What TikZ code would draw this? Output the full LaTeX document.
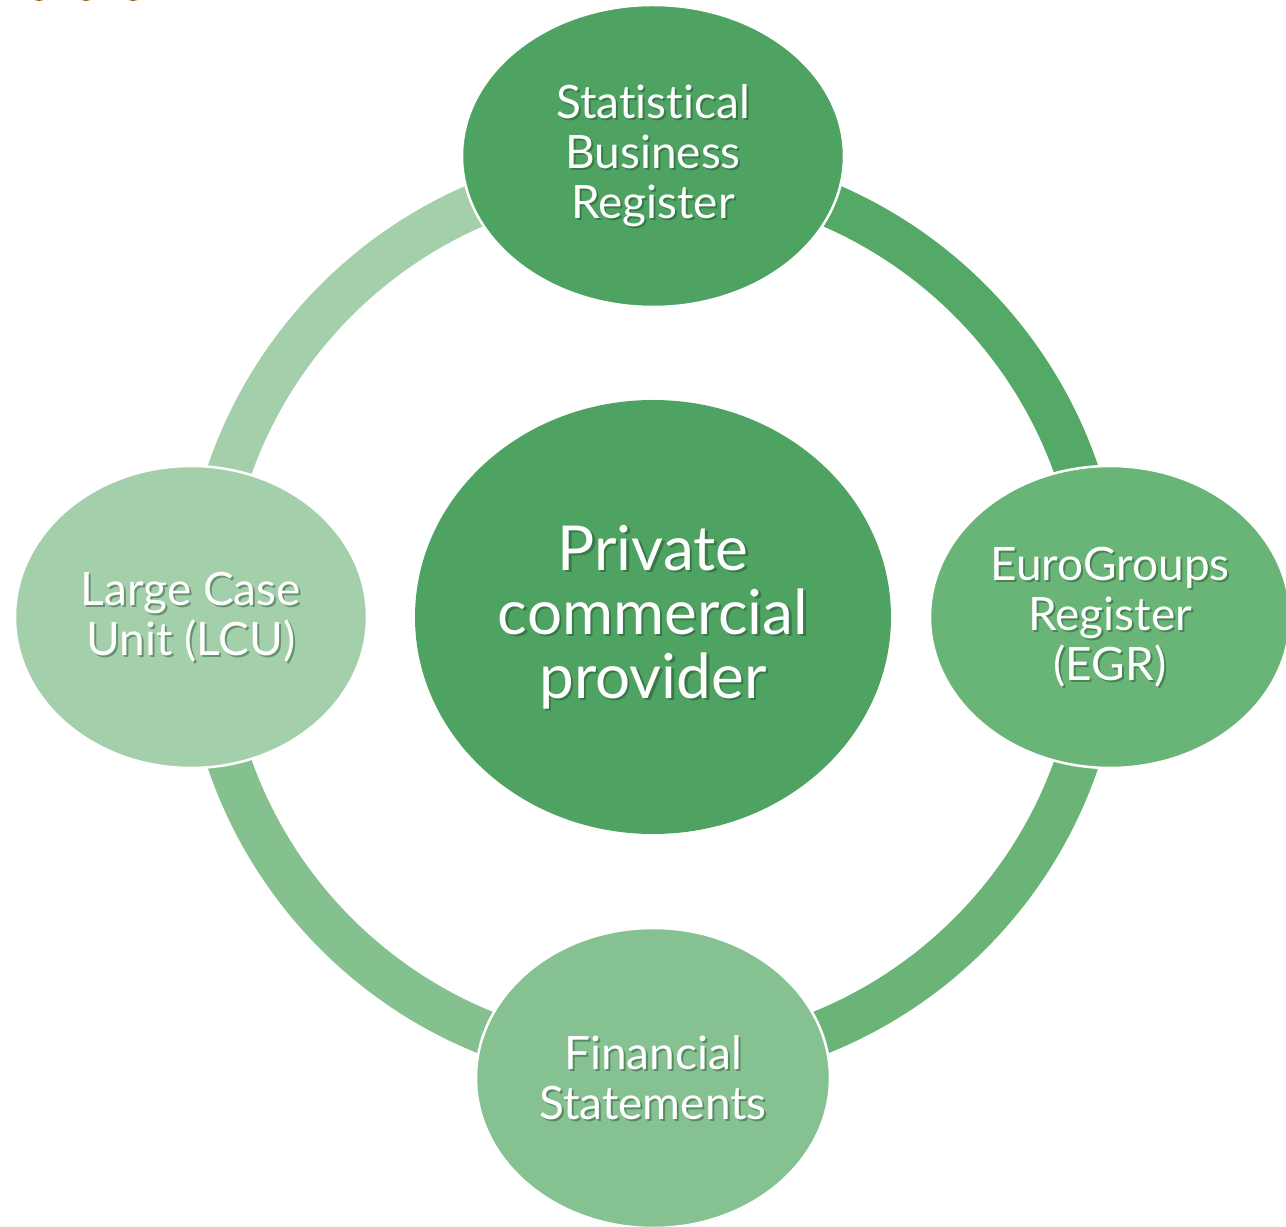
\documentclass[tikz,border=0pt]{standalone}
\usepackage{fontspec}
\setmainfont{Lato}[Ligatures=NoCommon]
\usetikzlibrary{shapes.geometric}
\definecolor{gA}{HTML}{4EA362}
\definecolor{gArc1}{HTML}{55A966}
\definecolor{gB}{HTML}{69B577}
\definecolor{gArc2}{HTML}{6AB477}
\definecolor{gC}{HTML}{86C291}
\definecolor{gArc3}{HTML}{85C08F}
\definecolor{gD}{HTML}{A3CFAB}
\definecolor{shd}{HTML}{1E4A28}
\definecolor{dotbrown}{HTML}{8B5A1E}
\tikzset{
  bubble/.style={ellipse, draw=white, line width=2.5pt, inner sep=0pt},
  ringarc/.style={line width=44pt},
  txt/.style={text=white, align=center, font=\fontsize{46}{50}\selectfont},
  bigtxt/.style={text=white, align=center, font=\fontsize{62}{64}\selectfont},
  shadowtxt/.style={text=shd, opacity=0.45},
}
\begin{document}
\begin{tikzpicture}[x=1pt,y=1pt]
\useasboundingbox (0,0) rectangle (1286,1227);
\clip (0,0) rectangle (1286,1227);
% brown dots at top-left
\fill[dotbrown] (39,1237) circle (11);
\fill[dotbrown] (86,1237) circle (11);
\fill[dotbrown] (133,1237) circle (11);
% centre reference
\coordinate (C) at (653,610);
% ring arcs
\draw[ringarc, gArc1] ([shift={(90:448)}]C) arc[start angle=90, end angle=0, radius=448];
\draw[ringarc, gArc2] ([shift={(0:448)}]C) arc[start angle=0, end angle=-90, radius=448];
\draw[ringarc, gArc3] ([shift={(-90:448)}]C) arc[start angle=-90, end angle=-180, radius=448];
\draw[ringarc, gD] ([shift={(180:448)}]C) arc[start angle=180, end angle=90, radius=448];
% bubbles
\node[bubble, fill=gA, minimum width=382pt, minimum height=302pt] (T) at (653,1071) {};
\node[bubble, fill=gB, minimum width=360pt, minimum height=302pt] (R) at (1110,610) {};
\node[bubble, fill=gC, minimum width=354pt, minimum height=300pt] (B) at (653,149) {};
\node[bubble, fill=gD, minimum width=352pt, minimum height=302pt] (L) at (191,610) {};
\node[bubble, fill=gA, minimum width=476pt, minimum height=434pt, draw=none] (M) at (653,610) {};
% shadows
\node[txt, shadowtxt] (Ts) at ([shift={(2,-2)}]T) {Statistical\\Business\\Register};
\node[txt, shadowtxt] (Rs) at ([shift={(2,-2)}]R) {EuroGroups\\Register\\(EGR)};
\node[txt, shadowtxt] (Bs) at ([shift={(2,-2)}]B) {Financial\\Statements};
\node[txt, shadowtxt] (Ls) at ([shift={(2,-2)}]L) {Large Case\\Unit (LCU)};
\node[bigtxt, shadowtxt] (Ms) at ([shift={(2.5,-2.5)}]M) {Private\\commercial\\provider};
% labels
\node[txt] (Tt) at (T) {Statistical\\Business\\Register};
\node[txt] (Rt) at (R) {EuroGroups\\Register\\(EGR)};
\node[txt] (Bt) at (B) {Financial\\Statements};
\node[txt] (Lt) at (L) {Large Case\\Unit (LCU)};
\node[bigtxt] (Mt) at (M) {Private\\commercial\\provider};
\end{tikzpicture}
\end{document}
